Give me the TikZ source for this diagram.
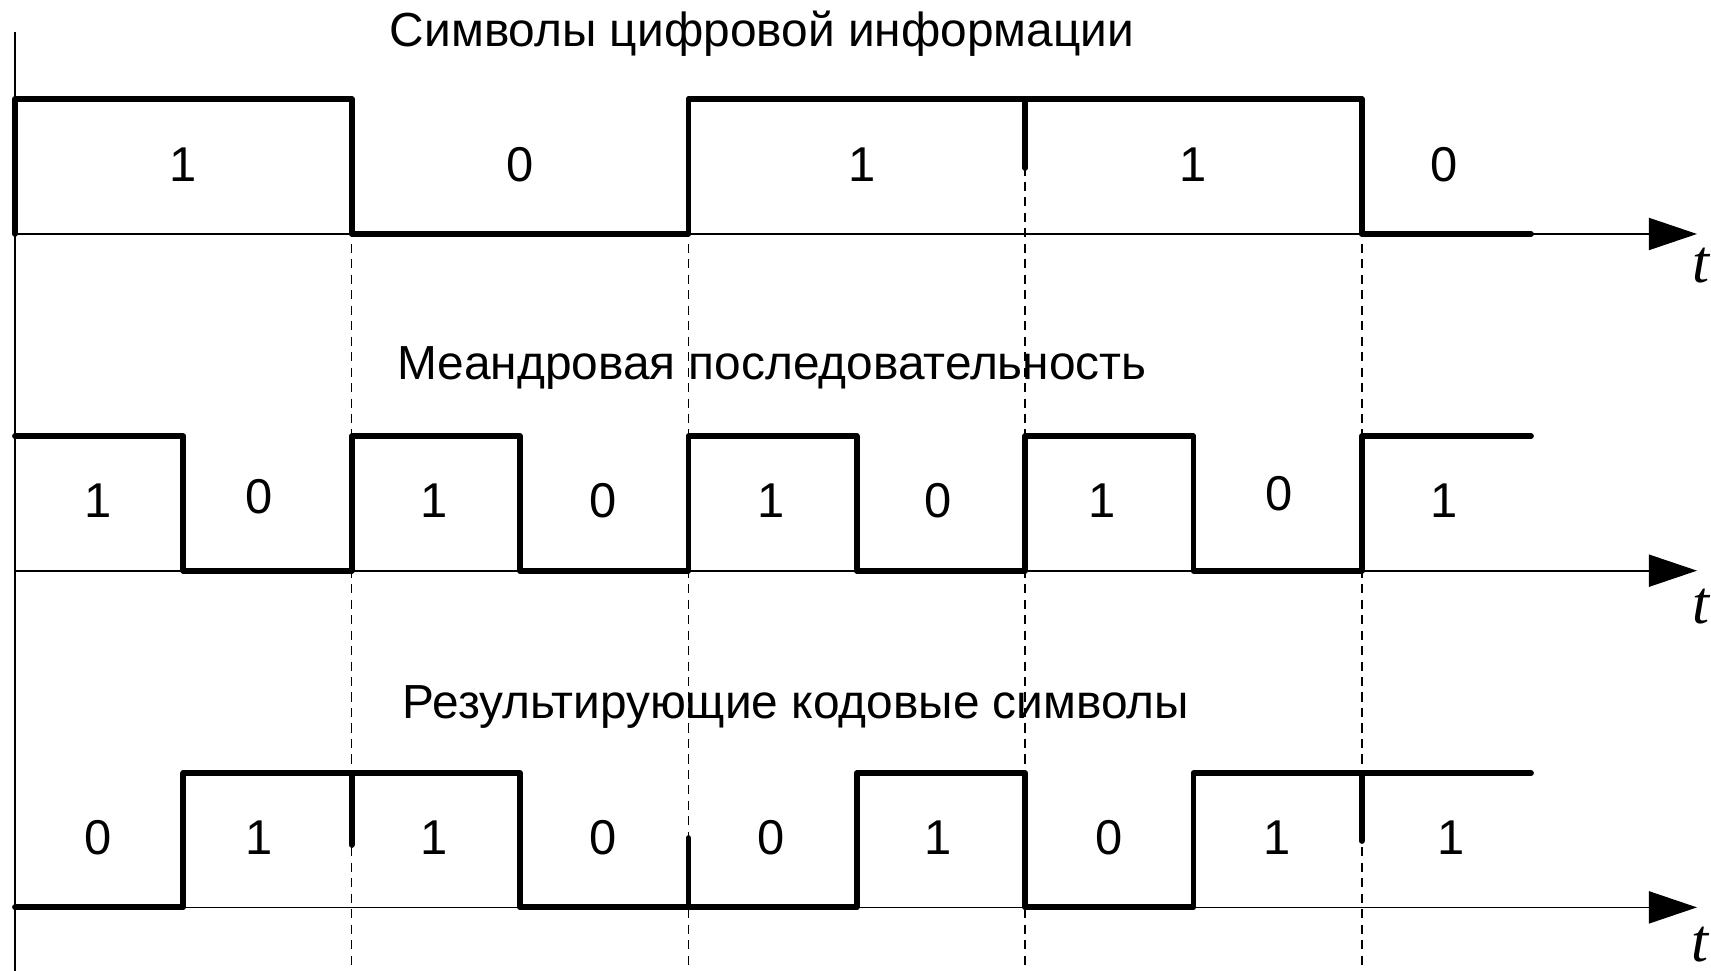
\documentclass[tikz,border=0pt]{standalone}
\usepackage{fontspec}
\setmainfont{Liberation Sans}
\newfontfamily\tfont{Liberation Serif}
\usetikzlibrary{arrows.meta}
\tikzset{
  wave/.style={line width=1.65pt, line cap=round, line join=round},
  axis/.style={line width=0.5pt, -{Triangle[length=0.48cm,width=0.32cm]}},
  yaxis/.style={line width=0.5pt},
  guide/.style={line width=0.4pt, dash pattern=on 2.6pt off 1.8pt},
  bit/.style={font=\fontsize{13.9}{16}\selectfont, inner sep=0pt},
  title/.style={font=\fontsize{13.6}{16}\selectfont, inner sep=0pt, anchor=base},
  tlab/.style={font=\fontsize{17.4}{20}\selectfont\tfont\itshape, inner sep=0pt}
}
\begin{document}
\begin{tikzpicture}[x=0.01cm, y=-0.01cm]
\useasboundingbox (0,0) rectangle (1711,971);
% axes
\coordinate (ytop) at (15,32);
\coordinate (ybot) at (15,971);
\draw[yaxis] (ytop) -- (ybot);
\coordinate (a1s) at (15,234);   \coordinate (a1e) at (1697,234);
\coordinate (a2s) at (15,570.7); \coordinate (a2e) at (1697,570.7);
\coordinate (a3s) at (15,907.4); \coordinate (a3e) at (1697,907.4);
% dashed guides
\foreach \n/\x in {g1/351.7, g2/688.4, g3/1025.1, g4/1361.8} {
  \coordinate (\n t) at (\x,120);
  \coordinate (\n b) at (\x,971);
  \draw[guide] (\n t) -- (\n b);
}
\draw[axis] (a1s) -- (a1e);
\draw[axis] (a2s) -- (a2e);
\draw[axis] (a3s) -- (a3e);
\node[tlab] (t1) at (1701,266) {t};
\node[tlab] (t2) at (1701,607) {t};
\node[tlab] (t3) at (1700,945) {t};
% top waveform: 1 0 1 1 0
\draw[wave] (15,234) -- (15,99) -- (351.7,99) -- (351.7,234) -- (688.4,234)
  -- (688.4,99) -- (1361.8,99) -- (1361.8,234) -- (1531,234);
\draw[wave] (1025.1,99) -- (1025.1,168);
% meander
\draw[wave] (15,436.2) -- (183.4,436.2) -- (183.4,570.7) -- (351.7,570.7)
  -- (351.7,436.2) -- (520,436.2) -- (520,570.7) -- (688.4,570.7)
  -- (688.4,436.2) -- (856.7,436.2) -- (856.7,570.7) -- (1025.1,570.7)
  -- (1025.1,436.2) -- (1193.4,436.2) -- (1193.4,570.7) -- (1361.8,570.7)
  -- (1361.8,436.2) -- (1531,436.2);
% result
\draw[wave] (15,907.4) -- (183.4,907.4) -- (183.4,773.2) -- (520,773.2)
  -- (520,907.4) -- (856.7,907.4) -- (856.7,773.2) -- (1025.1,773.2)
  -- (1025.1,907.4) -- (1193.4,907.4) -- (1193.4,773.2) -- (1531,773.2);
\draw[wave] (351.7,773.2) -- (351.7,845);
\draw[wave] (688.4,907.4) -- (688.4,838);
\draw[wave] (1361.8,773.2) -- (1361.8,841);
% titles
\node[title] (h1) at (762,47) {Символы цифровой информации};
\node[title] (h2) at (772,380) {Меандровая последовательность};
\node[title] (h3) at (796,719) {Результирующие кодовые символы};
% bits top
\node[bit] (b11) at (183,164.5) {1};
\node[bit] (b12) at (520.5,164.5) {0};
\node[bit] (b13) at (862,164.5) {1};
\node[bit] (b14) at (1193,164.5) {1};
\node[bit] (b15) at (1444,164.5) {0};
% bits meander
\node[bit] (b21) at (98,500.5) {1};
\node[bit] (b22) at (259,497) {0};
\node[bit] (b23) at (434,500.5) {1};
\node[bit] (b24) at (603,500.5) {0};
\node[bit] (b25) at (771.5,500.5) {1};
\node[bit] (b26) at (938,500.5) {0};
\node[bit] (b27) at (1102,500.5) {1};
\node[bit] (b28) at (1279,494) {0};
\node[bit] (b29) at (1444,500.5) {1};
% bits result
\node[bit] (b31) at (98,838) {0};
\node[bit] (b32) at (259,838) {1};
\node[bit] (b33) at (434,838) {1};
\node[bit] (b34) at (603,838) {0};
\node[bit] (b35) at (771.5,838) {0};
\node[bit] (b36) at (938,838) {1};
\node[bit] (b37) at (1108.6,838) {0};
\node[bit] (b38) at (1276.7,838) {1};
\node[bit] (b39) at (1451,838) {1};
\end{tikzpicture}
\end{document}
